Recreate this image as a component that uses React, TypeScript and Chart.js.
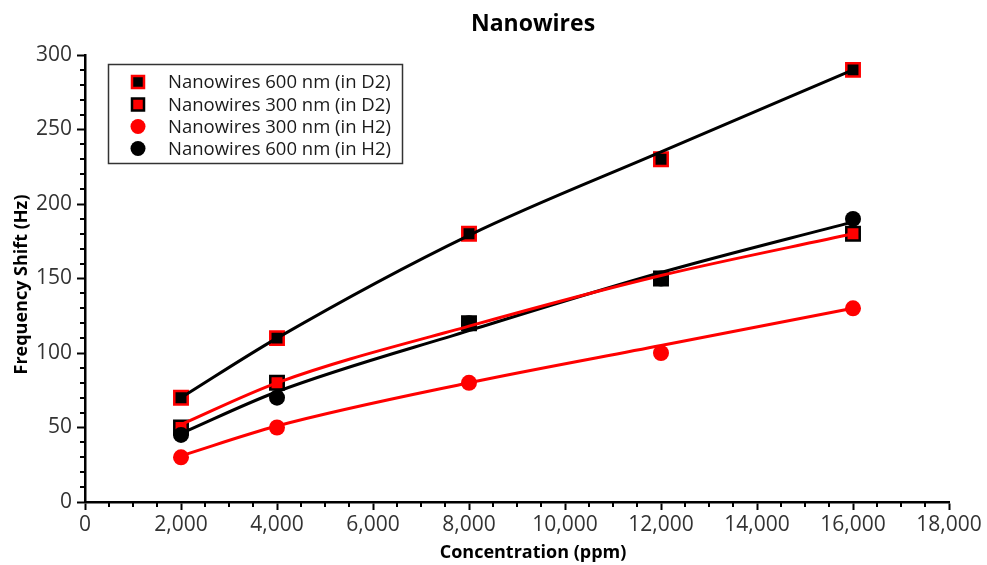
import React, { useEffect, useRef } from "react";
import { Chart, registerables } from "chart.js";

Chart.register(...registerables);

const concentrations = [2000, 4000, 8000, 12000, 16000];
const shift600D2 = [70, 110, 180, 230, 290];
const shift300D2 = [50, 80, 120, 150, 180];
const shift300H2 = [30, 50, 80, 100, 130];
const shift600H2 = [45, 70, 120, 150, 190];

// fitted trend curves at the same concentrations
const fit600D2 = [70, 110, 179, 235, 290];
const fit300D2 = [52, 80, 118, 152, 180];
const fit300H2 = [31, 51, 80, 105, 130];
const fit600H2 = [46, 74, 115, 154, 188];

const seriesLabels = [
  "Nanowires 600 nm (in D2)",
  "Nanowires 300 nm (in D2)",
  "Nanowires 300 nm (in H2)",
  "Nanowires 600 nm (in H2)",
];

const xTicksMax = 18000;
const yTicksMax = 300;

const RED = "#ff0000";
const BLACK = "#000000";
const FONT = "'Open Sans', 'DejaVu Sans', sans-serif";

const toPts = (ys: number[]) => concentrations.map((x, i) => ({ x, y: ys[i] }));

const legendStyles = [
  { shape: "rect", fill: BLACK, stroke: RED },
  { shape: "rect", fill: RED, stroke: BLACK },
  { shape: "circle", fill: RED, stroke: RED },
  { shape: "circle", fill: BLACK, stroke: BLACK },
];

const decorPlugin = {
  id: "decor",
  afterDraw(chart: any) {
    const { ctx, chartArea } = chart;
    const xs = chart.scales.x;
    const ys = chart.scales.y;
    ctx.save();
    // minor ticks
    ctx.strokeStyle = BLACK;
    ctx.lineWidth = 2;
    ctx.beginPath();
    for (let v = 0; v <= xTicksMax; v += 500) {
      if (v % 2000 === 0) continue;
      const px = Math.round(xs.getPixelForValue(v));
      ctx.moveTo(px, chartArea.bottom);
      ctx.lineTo(px, chartArea.bottom + 5);
    }
    for (let v = 0; v <= yTicksMax; v += 10) {
      if (v % 50 === 0) continue;
      const py = Math.round(ys.getPixelForValue(v));
      ctx.moveTo(chartArea.left, py);
      ctx.lineTo(chartArea.left - 5, py);
    }
    ctx.stroke();

    // titles
    const cx = (chartArea.left + chartArea.right) / 2 + 16;
    ctx.fillStyle = BLACK;
    ctx.textAlign = "center";
    ctx.textBaseline = "middle";
    ctx.font = `bold 23px ${FONT}`;
    ctx.fillText("Nanowires", cx, 24);
    ctx.font = `bold 18px ${FONT}`;
    ctx.fillText("Concentration (ppm)", cx, 553);
    ctx.save();
    ctx.translate(22, (chartArea.top + chartArea.bottom) / 2 + 6);
    ctx.rotate(-Math.PI / 2);
    ctx.fillText("Frequency Shift (Hz)", 0, 0);
    ctx.restore();

    // legend
    ctx.strokeStyle = "#333";
    ctx.lineWidth = 1.5;
    ctx.strokeRect(108.5, 64.5, 294, 99);
    const rowY = [82, 104.5, 126.5, 148.5];
    ctx.textAlign = "left";
    ctx.font = `18.5px ${FONT}`;
    seriesLabels.forEach((lab, i) => {
      const st = legendStyles[i];
      const mx = 138;
      const my = rowY[i];
      if (st.shape === "rect") {
        ctx.fillStyle = st.fill;
        ctx.strokeStyle = st.stroke;
        ctx.lineWidth = 2.5;
        ctx.beginPath();
        ctx.rect(mx - 6, my - 6, 12, 12);
        ctx.fill();
        ctx.stroke();
      } else {
        ctx.fillStyle = st.fill;
        ctx.beginPath();
        ctx.arc(mx, my, 7.5, 0, Math.PI * 2);
        ctx.fill();
      }
      ctx.fillStyle = "#1a1a1a";
      ctx.fillText(lab, 168, my + 1);
    });
    ctx.restore();
  },
};

export default function App() {
  const ref = useRef<HTMLCanvasElement | null>(null);
  useEffect(() => {
    if (!ref.current) return;
    const lineDs = (ys: number[], color: string) => ({
      type: "line" as const,
      data: toPts(ys),
      borderColor: color,
      borderWidth: 3,
      pointRadius: 0,
      pointHoverRadius: 0,
      cubicInterpolationMode: "monotone" as const,
      fill: false,
      order: 0,
    });
    const chart = new Chart(ref.current, {
      type: "scatter",
      data: {
        datasets: [
          {
            label: seriesLabels[0],
            data: toPts(shift600D2),
            pointStyle: "rect",
            pointRadius: 9.5,
            backgroundColor: BLACK,
            borderColor: RED,
            borderWidth: 2.5,
            order: 4,
          },
          {
            label: seriesLabels[1],
            data: toPts(shift300D2),
            pointStyle: "rect",
            pointRadius: 9.5,
            backgroundColor: RED,
            borderColor: BLACK,
            borderWidth: 2.5,
            order: 3,
          },
          {
            label: seriesLabels[2],
            data: toPts(shift300H2),
            pointStyle: "circle",
            pointRadius: 8,
            backgroundColor: RED,
            borderColor: RED,
            borderWidth: 0,
            order: 2,
          },
          {
            label: seriesLabels[3],
            data: toPts(shift600H2),
            pointStyle: "circle",
            pointRadius: 8,
            backgroundColor: BLACK,
            borderColor: BLACK,
            borderWidth: 0,
            order: 1,
          },
          lineDs(fit600D2, BLACK) as any,
          lineDs(fit300D2, RED) as any,
          lineDs(fit300H2, RED) as any,
          lineDs(fit600H2, BLACK) as any,
        ],
      },
      options: {
        responsive: false,
        animation: false,
        devicePixelRatio: 1,
        layout: { padding: { top: 55, right: 38, left: 0, bottom: 0 } },
        plugins: {
          legend: { display: false },
          title: { display: false },
          tooltip: { enabled: false },
        },
        scales: {
          x: {
            type: "linear",
            min: 0,
            max: xTicksMax,
            afterFit: (s: any) => {
              s.height = 63;
            },
            ticks: {
              stepSize: 2000,
              color: "#333",
              font: { family: FONT, size: 21 },
              padding: 2,
              maxRotation: 0,
              autoSkip: false,
            },
            grid: {
              display: true,
              drawOnChartArea: false,
              drawTicks: true,
              tickLength: 8,
              tickWidth: 2,
              tickColor: BLACK,
            },
            border: { display: true, color: BLACK, width: 2.5 },
          },
          y: {
            type: "linear",
            min: 0,
            max: yTicksMax,
            afterFit: (s: any) => {
              s.width = 85;
            },
            ticks: {
              stepSize: 50,
              color: "#333",
              font: { family: FONT, size: 21 },
              padding: 5,
            },
            grid: {
              display: true,
              drawOnChartArea: false,
              drawTicks: true,
              tickLength: 8,
              tickWidth: 2,
              tickColor: BLACK,
            },
            border: { display: true, color: BLACK, width: 2.5 },
          },
        },
      },
      plugins: [decorPlugin],
    });
    return () => chart.destroy();
  }, []);
  return (
    <div style={{ position: "absolute", left: 0, top: 0, width: 987, height: 565 }}>
      <canvas ref={ref} width={987} height={565} />
    </div>
  );
}
